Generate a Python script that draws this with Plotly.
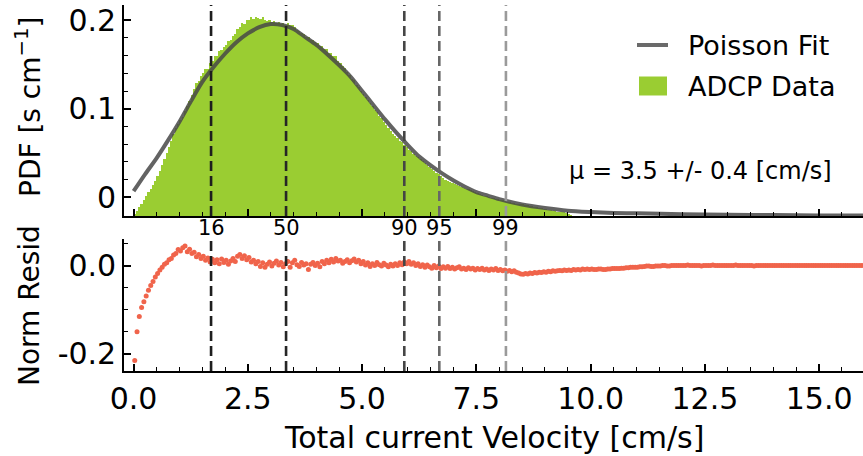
import numpy as np
import plotly.graph_objects as go

# ---------------- data ----------------
bin_width = 0.05
hist_pdf = [
    -0.019, -0.015, -0.011, -0.007, -0.003, 0.002, 0.006, 0.010, 0.014, 0.019,
    0.024, 0.030, 0.037, 0.043, 0.050, 0.057, 0.064, 0.072, 0.078, 0.083,
    0.087, 0.091, 0.097, 0.103, 0.109, 0.116, 0.122, 0.129, 0.131, 0.137,
    0.140, 0.145, 0.145, 0.152, 0.154, 0.160, 0.159, 0.165, 0.166, 0.170,
    0.172, 0.176, 0.177, 0.182, 0.184, 0.190, 0.192, 0.197, 0.196, 0.200,
    0.200, 0.203, 0.201, 0.204, 0.202, 0.201, 0.203, 0.200, 0.199, 0.200,
    0.198, 0.199, 0.197, 0.198, 0.196, 0.197, 0.195, 0.197, 0.195, 0.194,
    0.192, 0.189, 0.188, 0.185, 0.184, 0.181, 0.181, 0.178, 0.178, 0.175,
    0.174, 0.171, 0.171, 0.167, 0.167, 0.163, 0.163, 0.159, 0.159, 0.154,
    0.152, 0.148, 0.146, 0.141, 0.138, 0.134, 0.132, 0.127, 0.125, 0.120,
    0.117, 0.113, 0.110, 0.106, 0.103, 0.099, 0.096, 0.092, 0.089, 0.085,
    0.082, 0.078, 0.075, 0.072, 0.069, 0.067, 0.064, 0.062, 0.059, 0.057,
    0.054, 0.052, 0.049, 0.047, 0.045, 0.043, 0.041, 0.039, 0.036, 0.034,
    0.032, 0.030, 0.028, 0.026, 0.024, 0.022, 0.020, 0.019, 0.017, 0.016,
    0.015, 0.014, 0.013, 0.012, 0.011, 0.010, 0.009, 0.008, 0.007, 0.006,
    0.005, 0.004, 0.003, 0.002, 0.001, 0.000, -0.001, -0.001, -0.002, -0.002,
    -0.003, -0.003, -0.004, -0.005, -0.005, -0.006, -0.006, -0.007, -0.007, -0.008,
    -0.008, -0.009, -0.009, -0.010, -0.010, -0.011, -0.011, -0.012, -0.012, -0.013,
    -0.013, -0.014, -0.014, -0.015, -0.015, -0.016, -0.016, -0.017, -0.017, -0.018,
    -0.019, -0.020,
]

fit_x = [0.0, 0.25, 0.5, 0.75, 1.0, 1.25, 1.5, 1.75, 2.0, 2.25, 2.5, 2.75, 3.0,
         3.25, 3.5, 3.75, 4.0, 4.25, 4.5, 4.75, 5.0, 5.25, 5.5, 5.75, 6.0, 6.25,
         6.5, 6.75, 7.0, 7.25, 7.5, 7.75, 8.0, 8.5, 9.0, 9.5, 10.0, 10.5, 11.0,
         12.0, 13.0, 14.0, 15.0, 16.0]
fit_pdf = [0.007, 0.026, 0.044, 0.064, 0.085, 0.108, 0.130, 0.147, 0.162, 0.175,
           0.185, 0.192, 0.1955, 0.1945, 0.190, 0.181, 0.172, 0.161, 0.149, 0.136,
           0.120, 0.104, 0.088, 0.073, 0.059, 0.046, 0.036, 0.027, 0.019, 0.012,
           0.006, 0.002, -0.002, -0.008, -0.012, -0.015, -0.0165, -0.0175, -0.018,
           -0.019, -0.0195, -0.020, -0.0203, -0.0205]

resid_step_a = 0.05
resid_a = [
    -0.215, -0.150, -0.115, -0.095, -0.082, -0.069, -0.056, -0.045, -0.036, -0.026,
    -0.018, -0.010, -0.004, 0.003, 0.006, 0.013, 0.016, 0.024, 0.027, 0.036,
    0.033, 0.040, 0.044, 0.031, 0.037, 0.027, 0.030, 0.020, 0.025, 0.016,
    0.021, 0.012, 0.017, 0.008, 0.014, 0.006, 0.013, 0.004, 0.015, 0.007,
    0.012, 0.003, 0.010, 0.016, 0.009, 0.021, 0.025, 0.016, 0.022, 0.013,
    0.018, 0.008, 0.012, 0.004, 0.009, -0.002, 0.006, -0.004, 0.003, 0.008,
    -0.001, 0.005, 0.010, 0.001, 0.007, -0.003, 0.004, 0.009, -0.004, 0.006,
    0.012, 0.002, -0.002, 0.007, 0.001, 0.004, -0.009, 0.003, 0.007, 0.000,
    0.005, -0.003, 0.009, 0.004, 0.012, 0.006, 0.014, 0.008, 0.016, 0.010,
    0.012, 0.005, 0.009, 0.013, 0.006, 0.011, 0.015, 0.008, 0.012, 0.004,
    0.009, 0.001, 0.006, -0.002, 0.004, 0.000, 0.007, 0.002, -0.001, 0.005,
    0.001, -0.003, 0.003, -0.001, 0.004, 0.000, 0.006, 0.002, 0.008, 0.004,
    0.009, 0.003, 0.006, 0.000, 0.004, -0.002, 0.002, -0.004, 0.001, -0.003,
    -0.006, 0.000, -0.005, -0.001, -0.007, -0.003, -0.006, -0.002, -0.007, -0.004,
    -0.008, -0.005, -0.003, -0.008, -0.006, -0.009, -0.005, -0.008, -0.006, -0.010,
    -0.007, -0.009, -0.006, -0.010, -0.008, -0.011, -0.008, -0.010, -0.007, -0.011,
    -0.009, -0.012, -0.010, -0.013, -0.011, -0.014, -0.012, -0.015, -0.017, -0.019,
    -0.020, -0.018, -0.019, -0.017, -0.018, -0.016, -0.017, -0.015, -0.016, -0.014,
    -0.015, -0.013, -0.014, -0.012, -0.013, -0.012, -0.011, -0.012, -0.010, -0.011,
    -0.010, -0.011, -0.009, -0.010, -0.009, -0.010, -0.008, -0.009, -0.008, -0.009,
]
resid_b = [
    -0.008, -0.009, -0.009, -0.008, -0.008, -0.009, -0.009, -0.008, -0.008, -0.007,
    -0.007, -0.007, -0.007, -0.006, -0.006, -0.005, -0.005, -0.004, -0.004, -0.004,
    -0.004, -0.003, -0.003, -0.002, -0.001, -0.001, -0.002, -0.002, -0.001, -0.001,
    -0.001, 0.000, 0.000, -0.001, -0.001, 0.000, 0.000, 0.000, 0.000, 0.000,
    0.000, 0.000, 0.001, 0.000, 0.000, 0.000, 0.000, 0.000, -0.001, 0.000,
    0.000, 0.000, 0.000, 0.001, 0.000, 0.000, 0.000, 0.000, 0.000, 0.000,
    0.000, 0.000, 0.000, 0.001, 0.000, 0.000, 0.000, 0.000, 0.000, 0.000,
    0.000, -0.001, 0.000, 0.000, 0.000, 0.000, 0.000, 0.000, 0.000, 0.000,
    0.000, 0.000, 0.000, 0.000, 0.000, 0.000, 0.000, 0.000, 0.000, 0.000,
    0.000, 0.000, 0.000, 0.000, 0.000, 0.000, 0.000, 0.000, 0.000, 0.000,
    0.000, 0.000, 0.000, 0.000, 0.000, 0.000, 0.000, 0.000, 0.000, 0.000,
    0.000, 0.000, 0.000, 0.000, 0.000, 0.000, 0.000, 0.000, 0.000, 0.000,
]

pct_labels = ["16", "50", "90", "95", "99"]
pct_values = [1.695, 3.336, 5.923, 6.689, 8.147]
pct_colors = ["#1e1e1e", "#262626", "#454545", "#676767", "#9a9a9a"]

mu_text = "μ = 3.5 +/- 0.4 [cm/s]"

# ---------------- derived grid ----------------
hist_x = 0.025 + bin_width * np.arange(len(hist_pdf))
resid_x = list(0.025 + resid_step_a * np.arange(len(resid_a) + len(resid_b)))
resid_y = resid_a + resid_b

BASE = -0.04
GREEN = "#9acd32"
FIT = "rgba(72,72,72,0.85)"
RED = "#f0644b"
FONT = "DejaVu Sans"
TICK = 30

fig = go.Figure()
fig.add_trace(go.Bar(x=hist_x, y=[v - BASE for v in hist_pdf], base=BASE,
                     width=bin_width, marker=dict(color=GREEN, line=dict(width=0)),
                     xaxis="x", yaxis="y", name="ADCP Data", showlegend=False))
fig.add_trace(go.Scatter(x=fit_x, y=fit_pdf, mode="lines",
                         line=dict(color=FIT, width=4, shape="spline", smoothing=0.8),
                         xaxis="x", yaxis="y", name="Poisson Fit", showlegend=False))
fig.add_trace(go.Scatter(x=resid_x, y=resid_y, mode="markers",
                         marker=dict(color=RED, size=5, line=dict(width=0)),
                         xaxis="x2", yaxis="y2", showlegend=False))

XR = [-0.21, 15.96]
common_x = dict(range=XR, showline=True, linecolor="black", linewidth=1.6,
                ticks="inside", ticklen=7, tickwidth=1.6, tickcolor="black",
                dtick=2.5, tick0=0,
                minor=dict(dtick=0.5, tick0=0, ticks="inside", ticklen=4,
                           tickwidth=1.2, tickcolor="black"),
                showgrid=False, zeroline=False,
                tickfont=dict(family=FONT, size=TICK, color="black"))
fig.update_layout(
    width=863, height=456,
    margin=dict(l=124, r=0, t=5, b=85),
    paper_bgcolor="white", plot_bgcolor="white",
    bargap=0, showlegend=False,
    xaxis=dict(**common_x, anchor="y", showticklabels=False),
    xaxis2=dict(**common_x, anchor="y2", tickformat=".1f"),
    yaxis=dict(domain=[0.4235, 1.0], range=[-0.021, 0.217], anchor="x",
               showline=True, linecolor="black", linewidth=1.6,
               ticks="inside", ticklen=7, tickwidth=1.6, tickcolor="black",
               tickvals=[0, 0.1, 0.2], ticktext=["0", "0.1", "0.2"],
               minor=dict(dtick=0.02, tick0=0, ticks="inside", ticklen=4,
                          tickwidth=1.2, tickcolor="black"),
               showgrid=False, zeroline=False,
               tickfont=dict(family=FONT, size=TICK, color="black")),
    yaxis2=dict(domain=[0.0, 0.3607], range=[-0.2385, 0.06], anchor="x2",
                showline=True, linecolor="black", linewidth=1.6,
                ticks="inside", ticklen=7, tickwidth=1.6, tickcolor="black",
                tickvals=[-0.2, 0.0], ticktext=["-0.2", "0.0"],
                minor=dict(dtick=0.05, tick0=0, ticks="inside", ticklen=4,
                           tickwidth=1.2, tickcolor="black"),
                showgrid=False, zeroline=False,
                tickfont=dict(family=FONT, size=TICK, color="black")),
)

shapes = []
annos = []
for lab, val, col in zip(pct_labels, pct_values, pct_colors):
    for xr, yr in (("x", "y domain"), ("x2", "y2 domain")):
        shapes.append(dict(type="line", xref=xr, yref=yr, x0=val, x1=val, y0=0, y1=1,
                           line=dict(color=col, width=2.6, dash="10px,5px"), layer="above"))
    annos.append(dict(text=lab, xref="x", yref="paper", x=val, y=0.3907,
                      xanchor="center", yanchor="middle", showarrow=False,
                      font=dict(family=FONT, size=21, color="black")))

# legend drawn manually (paper coords)
PW, PH, L, T = 739.0, 366.0, 124.0, 5.0
def px(xp):
    return (xp - L) / PW
def py(yp):
    return (T + PH - yp) / PH

shapes.append(dict(type="line", xref="paper", yref="paper", x0=px(637), x1=px(668),
                   y0=py(45), y1=py(45), line=dict(color="#6a6a6a", width=4)))
shapes.append(dict(type="rect", xref="paper", yref="paper", x0=px(639), x1=px(667),
                   y0=py(95.5), y1=py(76.5), line=dict(width=0), fillcolor=GREEN))
annos.append(dict(text="Poisson Fit", xref="paper", yref="paper", x=px(686), y=py(45),
                  xanchor="left", yanchor="middle", showarrow=False,
                  font=dict(family=FONT, size=27, color="black")))
annos.append(dict(text="ADCP Data", xref="paper", yref="paper", x=px(686), y=py(86),
                  xanchor="left", yanchor="middle", showarrow=False,
                  font=dict(family=FONT, size=27, color="black")))
annos.append(dict(text=mu_text, xref="paper", yref="paper", x=px(834), y=py(171),
                  xanchor="right", yanchor="middle", showarrow=False,
                  font=dict(family=FONT, size=24, color="black")))
# axis titles
annos.append(dict(text="PDF [s cm<sup>−1</sup>]", xref="paper", yref="paper",
                  x=px(29), y=py(107), xanchor="center", yanchor="middle",
                  textangle=-90, showarrow=False,
                  font=dict(family=FONT, size=28, color="black")))
annos.append(dict(text="Norm Resid", xref="paper", yref="paper",
                  x=px(29), y=py(306), xanchor="center", yanchor="middle",
                  textangle=-90, showarrow=False,
                  font=dict(family=FONT, size=28, color="black")))
annos.append(dict(text="Total current Velocity [cm/s]", xref="paper", yref="paper",
                  x=px(494), y=py(437), xanchor="center", yanchor="middle",
                  showarrow=False, font=dict(family=FONT, size=30, color="black")))

fig.update_layout(shapes=shapes, annotations=annos)
fig.write_html("out.html")
